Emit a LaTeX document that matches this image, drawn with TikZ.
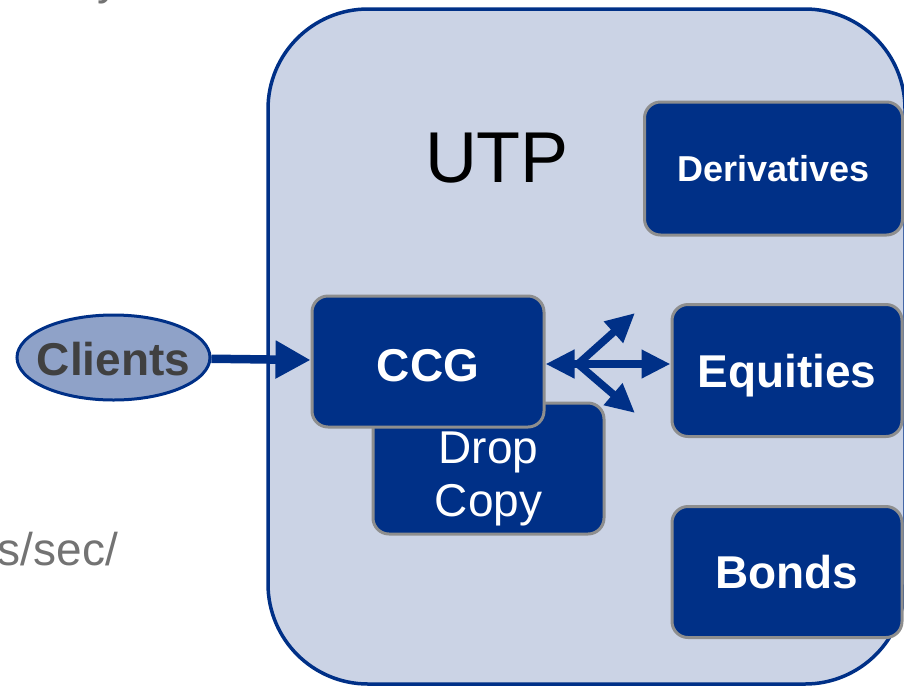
\documentclass[tikz,border=0pt]{standalone}
\usepackage{fontspec}
\setmainfont{Liberation Sans}
\usetikzlibrary{shapes.geometric,arrows.meta,calc}
\definecolor{navy}{HTML}{003087}
\definecolor{utpfill}{HTML}{CBD3E5}
\definecolor{boxgray}{HTML}{8E8E8E}
\definecolor{clientfill}{HTML}{8FA2C8}
\definecolor{clienttext}{HTML}{404040}
\definecolor{fragtext}{HTML}{737373}
\begin{document}
\begin{tikzpicture}[x=1pt,y=-1pt,
  utpbox/.style={draw=navy, line width=3.5pt, fill=utpfill, rounded corners=100pt,
    minimum width=637pt, minimum height=675pt, inner sep=0pt},
  mkt/.style={draw=boxgray, line width=3pt, fill=navy, rounded corners=16pt,
    text=white, inner sep=0pt, align=center},
  boldtxt/.style={font=\bfseries\fontsize{46}{52}\selectfont, text depth=0pt},
  client/.style={ellipse, draw=navy, line width=3pt, fill=clientfill, inner sep=0pt,
    minimum width=193pt, minimum height=85pt},
  clienttxt/.style={text=clienttext, inner sep=0pt, text depth=0pt,
    font=\bfseries\fontsize{46}{52}\selectfont},
  frag/.style={text=fragtext, font=\fontsize{46}{52}\selectfont, inner sep=0pt},
  conn/.style={draw=navy, line width=8.5pt, -{Triangle[length=35pt,width=36pt]}},
  fork/.style={draw=navy, line width=7.5pt, line cap=round, -{Triangle[length=29pt,width=27pt]}}
]
\useasboundingbox (0,0) rectangle (904,686);

% fragments of surrounding text
\node[frag, anchor=base west] (fragy) at (97,-6) {y};
\node[frag, anchor=base east] (fragsec) at (118,565) {s/sec/};

% UTP container
\node[utpbox] (utp) at (586.5,346.5) {};
\node[font=\fontsize{72}{80}\selectfont, inner sep=0pt] (utplabel) at (497,158) {UTP};

% boxes
\node[mkt, minimum width=231pt, minimum height=131pt] (drop) at (488.5,468.5) {};
\node[text=white, font=\fontsize{46}{53}\selectfont, align=center, inner sep=0pt] (droptxt)
  at ($(drop.center)+(0,10)$) {Drop\\Copy};
\node[mkt, minimum width=232pt, minimum height=131pt] (ccg) at (428,361.5) {};
\node[boldtxt, text=white, inner sep=0pt] (ccgtxt) at (428,365) {CCG};
\node[mkt, font=\bfseries\fontsize{36}{42}\selectfont, text depth=0pt, minimum width=258pt, minimum height=133pt] (deriv) at (773.5,168.5) {Derivatives};
\node[mkt, boldtxt, minimum width=230pt, minimum height=132pt] (eq) at (787,370.5) {Equities};
\node[mkt, boldtxt, minimum width=230pt, minimum height=131pt] (bonds) at (787,572) {Bonds};

% clients
\node[client] (clients) at (113.5,357.5) {};
\node[clienttxt] (clientstxt) at (113.5,359) {Clients};

% connectors
\draw[conn] (clients) -- (ccg);
\coordinate (j) at (578,364);
\coordinate (up) at (635,313);
\coordinate (dn) at (635,413);
\draw[fork] (j) -- (j -| ccg.east);
\draw[fork] (j) -- (j -| eq.west);
\draw[fork] (j) -- (up);
\draw[fork] (j) -- (dn);
\end{tikzpicture}
\end{document}
